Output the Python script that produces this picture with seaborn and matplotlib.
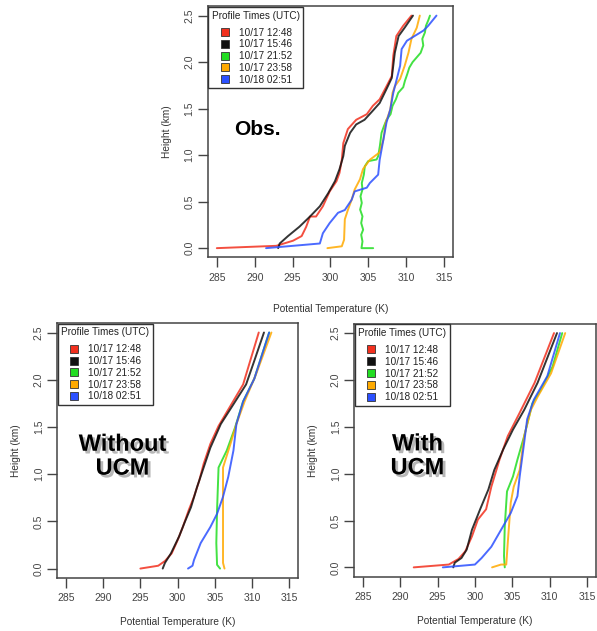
import numpy as np
import matplotlib.pyplot as plt
import matplotlib.patheffects as pe
from matplotlib.lines import Line2D
import seaborn as sns

# profile labels and colours
times = ['10/17 12:48', '10/17 15:46', '10/17 21:52', '10/17 23:58', '10/18 02:51']
colors = ['#f2301e', '#111111', '#22dd22', '#ffaa00', '#2b50ff']

# ---- Observations (potential temperature K, height km) ----
obs_t_1248 = [285.0, 292.85, 295.06, 296.2, 296.8, 297.3, 298.1, 299.0, 299.9, 300.8, 301.2, 301.5,
              301.7, 302.3, 303.4, 304.8, 305.6, 306.5, 307.4, 308.1, 308.3, 308.7, 309.6, 310.7]
obs_z_1248 = [0.0, 0.025, 0.08, 0.13, 0.23, 0.34, 0.34, 0.45, 0.61, 0.72, 0.81, 0.95,
              1.13, 1.28, 1.38, 1.44, 1.53, 1.60, 1.74, 1.85, 2.07, 2.28, 2.39, 2.5]
obs_t_1546 = [293.1, 293.3, 294.4, 295.9, 297.3, 298.6, 299.7, 300.6, 301.2, 301.7, 301.9, 302.6,
              303.4, 304.5, 305.4, 306.5, 307.4, 308.1, 308.5, 309.0, 309.8, 310.9]
obs_z_1546 = [0.0, 0.05, 0.13, 0.23, 0.34, 0.45, 0.59, 0.72, 0.85, 0.99, 1.10, 1.24,
              1.33, 1.38, 1.46, 1.56, 1.71, 1.83, 2.10, 2.28, 2.37, 2.5]
obs_t_2152 = [305.64, 304.10, 304.23, 304.06, 304.32, 304.06, 304.23, 303.92, 304.14, 303.97, 304.23,
              304.14, 304.41, 304.54, 304.98, 306.09, 306.31, 306.53, 306.75, 307.06, 307.41, 307.94,
              308.20, 308.64, 308.95, 309.61, 309.84, 310.14, 310.41, 310.85, 311.38, 311.91, 312.26,
              312.13, 312.48, 312.61, 312.92, 313.14]
obs_z_2152 = [0.0, 0.0, 0.072, 0.144, 0.198, 0.27, 0.342, 0.414, 0.486, 0.558, 0.63,
              0.70, 0.79, 0.88, 0.935, 0.953, 0.99, 1.10, 1.24, 1.31, 1.38, 1.44,
              1.53, 1.60, 1.67, 1.73, 1.80, 1.87, 1.94, 2.00, 2.05, 2.10, 2.18,
              2.25, 2.32, 2.39, 2.45, 2.5]
obs_t_2358 = [299.6, 301.5, 301.8, 301.9, 302.3, 302.8, 303.2, 303.9, 304.3, 305.2, 306.5, 307.0,
              307.3, 307.9, 308.2, 308.5, 309.2, 309.8, 310.3, 310.7, 311.4, 311.8]
obs_z_2358 = [0.0, 0.02, 0.09, 0.31, 0.41, 0.52, 0.63, 0.74, 0.85, 0.95, 1.03, 1.17,
              1.35, 1.49, 1.67, 1.74, 1.82, 1.96, 2.10, 2.25, 2.37, 2.5]
obs_t_0251 = [291.5, 298.6, 299.0, 299.9, 301.0, 301.9, 302.8, 303.2, 304.8, 305.2, 306.3, 306.5,
              307.0, 307.4, 307.9, 308.3, 309.2, 309.4, 310.1, 312.3, 312.9, 314.0]
obs_z_0251 = [0.0, 0.05, 0.16, 0.27, 0.38, 0.41, 0.52, 0.61, 0.65, 0.70, 0.79, 0.95,
              1.17, 1.35, 1.49, 1.67, 1.96, 2.14, 2.23, 2.34, 2.39, 2.5]

# ---- Model without UCM ----
noucm_t_1248 = [295.0, 297.4, 298.3, 299.2, 300.0, 300.7, 301.5, 302.2, 302.9, 303.5, 304.4, 305.5, 307.0, 308.8, 309.6, 310.9]
noucm_z_1248 = [0.0, 0.03, 0.08, 0.16, 0.30, 0.44, 0.62, 0.76, 0.93, 1.11, 1.32, 1.51, 1.71, 1.95, 2.16, 2.5]
noucm_t_1546 = [298.0, 298.3, 299.1, 300.2, 300.9, 301.8, 302.6, 303.5, 304.4, 305.8, 307.5, 309.2, 310.3, 311.6]
noucm_z_1546 = [0.0, 0.06, 0.16, 0.34, 0.48, 0.65, 0.86, 1.07, 1.28, 1.53, 1.74, 1.95, 2.2, 2.5]
noucm_t_2152 = [305.7, 305.3, 305.2, 305.3, 305.5, 306.6, 307.7, 308.8, 310.3, 312.3]
noucm_z_2152 = [0.0, 0.04, 0.27, 0.62, 1.07, 1.25, 1.49, 1.77, 2.01, 2.5]
noucm_t_2358 = [306.3, 306.1, 306.1, 306.1, 307.1, 307.9, 309.0, 310.5, 312.6]
noucm_z_2358 = [0.0, 0.06, 0.62, 1.07, 1.32, 1.53, 1.77, 2.05, 2.5]
noucm_t_0251 = [301.4, 302.0, 302.2, 303.1, 304.4, 305.3, 306.1, 306.8, 307.5, 307.9, 308.8, 310.3, 312.3]
noucm_z_0251 = [0.0, 0.03, 0.09, 0.27, 0.44, 0.58, 0.76, 0.97, 1.25, 1.53, 1.77, 2.01, 2.5]

# ---- Model with UCM ----
ucm_t_1248 = [291.8, 296.5, 297.8, 298.7, 299.6, 300.4, 301.5, 302.2, 303.3, 304.4, 306.0, 308.0, 310.6]
ucm_z_1248 = [0.0, 0.03, 0.09, 0.17, 0.33, 0.51, 0.62, 0.86, 1.15, 1.40, 1.65, 1.97, 2.5]
ucm_t_1546 = [297.1, 297.3, 298.2, 298.9, 299.6, 300.7, 301.8, 302.6, 303.8, 305.1, 306.6, 308.4, 311.0]
ucm_z_1546 = [0.0, 0.05, 0.10, 0.19, 0.40, 0.62, 0.83, 1.04, 1.26, 1.47, 1.68, 1.97, 2.5]
ucm_t_2152 = [304.0, 303.9, 304.0, 304.3, 305.1, 305.7, 306.6, 307.7, 308.8, 310.4, 311.7]
ucm_z_2152 = [0.0, 0.12, 0.44, 0.81, 0.97, 1.15, 1.40, 1.75, 1.89, 2.14, 2.5]
ucm_t_2358 = [302.3, 303.5, 304.2, 304.4, 304.8, 305.2, 306.0, 306.6, 307.5, 308.4, 310.2, 312.1]
ucm_z_2358 = [0.0, 0.03, 0.03, 0.26, 0.69, 0.86, 1.04, 1.40, 1.68, 1.82, 2.07, 2.5]
ucm_t_0251 = [295.7, 300.0, 300.9, 302.2, 303.5, 304.8, 305.7, 306.0, 306.6, 307.0, 307.9, 309.7, 311.4]
ucm_z_0251 = [0.0, 0.03, 0.10, 0.22, 0.40, 0.58, 0.76, 0.97, 1.33, 1.58, 1.79, 2.04, 2.5]

x_ticks = [285, 290, 295, 300, 305, 310, 315]
y_ticks = [0.0, 0.5, 1.0, 1.5, 2.0, 2.5]

sns.set_style('white')
plt.rcParams['font.family'] = ['Liberation Sans', 'DejaVu Sans']

fig = plt.figure(figsize=(5.97, 6.31), dpi=100)

# axes placed in figure fractions (left, bottom, width, height)
ax_obs = fig.add_axes([0.348, 0.592, 0.411, 0.398])
ax_no = fig.add_axes([0.0955, 0.084, 0.404, 0.404])
ax_ucm = fig.add_axes([0.593, 0.086, 0.405, 0.401])

# (axes, series, pixel offset of x label top below the axes)
panels = [
    (ax_obs, [(obs_t_1248, obs_z_1248), (obs_t_1546, obs_z_1546), (obs_t_2152, obs_z_2152),
              (obs_t_2358, obs_z_2358), (obs_t_0251, obs_z_0251)], 47),
    (ax_no, [(noucm_t_1248, noucm_z_1248), (noucm_t_1546, noucm_z_1546), (noucm_t_2152, noucm_z_2152),
             (noucm_t_2358, noucm_z_2358), (noucm_t_0251, noucm_z_0251)], 39),
    (ax_ucm, [(ucm_t_1248, ucm_z_1248), (ucm_t_1546, ucm_z_1546), (ucm_t_2152, ucm_z_2152),
              (ucm_t_2358, ucm_z_2358), (ucm_t_0251, ucm_z_0251)], 39),
]

for ax, series, xlab_off in panels:
    for (t, z), c in zip(series, colors):
        sns.lineplot(x=t, y=z, ax=ax, sort=False, estimator=None, color=c, lw=1.4, alpha=0.85)

    ax.set_xlim(283.8, 316.2)
    ax.set_ylim(-0.1, 2.6)
    ax.set_xticks(x_ticks)
    ax.set_yticks(y_ticks)
    ax.set_xticklabels([str(v) for v in x_ticks])
    ax.set_yticklabels([f'{v:.1f}' for v in y_ticks], rotation=90, va='center')
    ax.tick_params(direction='out', length=7, width=1, color='#444444', labelsize=7.5,
                   labelcolor='#444444', pad=4, bottom=True, left=True)
    ax.tick_params(axis='y', pad=2.5)
    for sp in ax.spines.values():
        sp.set_color('#444444')
        sp.set_linewidth(1.1)

    ax.set_xlabel('Potential Temperature (K)', fontsize=7.3, color='#333333')
    ax.set_ylabel('Height (km)', fontsize=7.3, color='#333333')
    h_px = ax.get_position().height * fig.get_figheight() * fig.dpi
    w_px = ax.get_position().width * fig.get_figwidth() * fig.dpi
    ax.xaxis.set_label_coords(0.5, -xlab_off / h_px)
    ax.yaxis.set_label_coords(-36 / w_px, 0.5)

    handles = [Line2D([0], [0], marker='s', linestyle='', markersize=6,
                      markerfacecolor=c, markeredgecolor='#333333', markeredgewidth=0.6)
               for c in colors]
    leg = ax.legend(handles, times, title='Profile Times (UTC)', loc='upper left',
                    bbox_to_anchor=(0.003, 0.997), borderaxespad=0, fontsize=7.2,
                    title_fontsize=7.2, fancybox=False, framealpha=1, edgecolor='#333333',
                    handlelength=1.0, handletextpad=0.9, labelspacing=0.18, borderpad=0.35)
    leg.get_frame().set_linewidth(1.0)
    leg._legend_box.sep = 5
    leg.get_title().set_color('#222222')
    for txt in leg.get_texts():
        txt.set_color('#222222')

ax_obs.text(290.3, 1.28, 'Obs.', fontsize=15, fontweight='bold', ha='center', va='center',
            color='black')

shadow = [pe.withSimplePatchShadow(offset=(2, -2), shadow_rgbFace='#888888', alpha=0.6)]
ax_no.text(292.6, 1.19, 'Without\nUCM', fontsize=17, fontweight='bold', ha='center', va='center',
           linespacing=1.05, color='black', path_effects=shadow)
ax_ucm.text(292.3, 1.19, 'With\nUCM', fontsize=17, fontweight='bold', ha='center', va='center',
            linespacing=1.05, color='black', path_effects=shadow)

fig.savefig('out.png', dpi=100, facecolor='white')
